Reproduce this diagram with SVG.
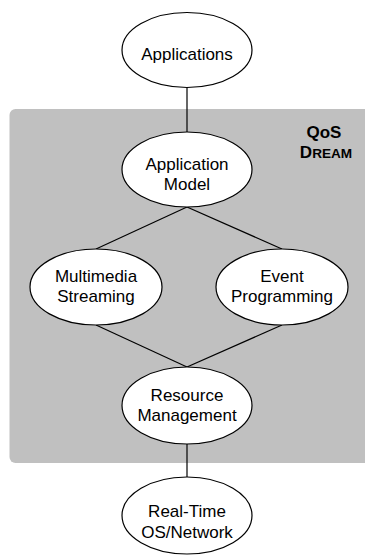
<svg xmlns="http://www.w3.org/2000/svg" width="365" height="556" viewBox="0 0 365 556">
  <style>
    .node ellipse { fill: #ffffff; stroke: #000000; stroke-width: 1.2; }
    .node text { font-family: "Liberation Sans", Arial, sans-serif; font-size: 17px; fill: #000000; text-anchor: middle; }
    .edge { stroke: #000000; stroke-width: 1.2; fill: none; }
    .label { font-family: "Liberation Sans", Arial, sans-serif; font-weight: bold; fill: #000000; text-anchor: middle; }
  </style>
  <rect width="365" height="556" fill="#ffffff"/>

  <!-- QoS DREAM middleware panel -->
  <g id="panel">
    <rect x="9.5" y="109" width="370" height="354" rx="6" ry="6" fill="#c0c0c0"/>
    <text class="label" x="324" y="137.5" font-size="17">QoS</text>
    <text class="label" x="326" y="157.5" font-size="17">D<tspan font-size="13.6">REAM</tspan></text>
  </g>

  <g id="connectors">
    <line class="edge" x1="187" y1="87" x2="187" y2="132"/>
    <line class="edge" x1="187" y1="207" x2="96" y2="249"/>
    <line class="edge" x1="187" y1="207" x2="282" y2="249"/>
    <line class="edge" x1="96" y1="325" x2="187" y2="367"/>
    <line class="edge" x1="282" y1="325" x2="187" y2="367"/>
    <line class="edge" x1="187" y1="444" x2="187" y2="477"/>
  </g>

  <g id="applications" class="node">
    <ellipse cx="187" cy="50" rx="65" ry="37.5"/>
    <text x="187" y="60">Applications</text>
  </g>

  <g id="application-model" class="node">
    <ellipse cx="187" cy="169.5" rx="65" ry="37.5"/>
    <text x="187" y="170">Application</text>
    <text x="187" y="189.5">Model</text>
  </g>

  <g id="multimedia-streaming" class="node">
    <ellipse cx="96" cy="287" rx="66" ry="38"/>
    <text x="96" y="282">Multimedia</text>
    <text x="96" y="301.5">Streaming</text>
  </g>

  <g id="event-programming" class="node">
    <ellipse cx="282" cy="287" rx="66" ry="38"/>
    <text x="282" y="282">Event</text>
    <text x="282" y="301.5">Programming</text>
  </g>

  <g id="resource-management" class="node">
    <ellipse cx="187" cy="405.5" rx="65" ry="38.5"/>
    <text x="187" y="400.5">Resource</text>
    <text x="187" y="421">Management</text>
  </g>

  <g id="real-time-os" class="node">
    <ellipse cx="187" cy="515.5" rx="65" ry="38.5"/>
    <text x="187" y="517">Real-Time</text>
    <text x="187" y="538">OS/Network</text>
  </g>
</svg>
